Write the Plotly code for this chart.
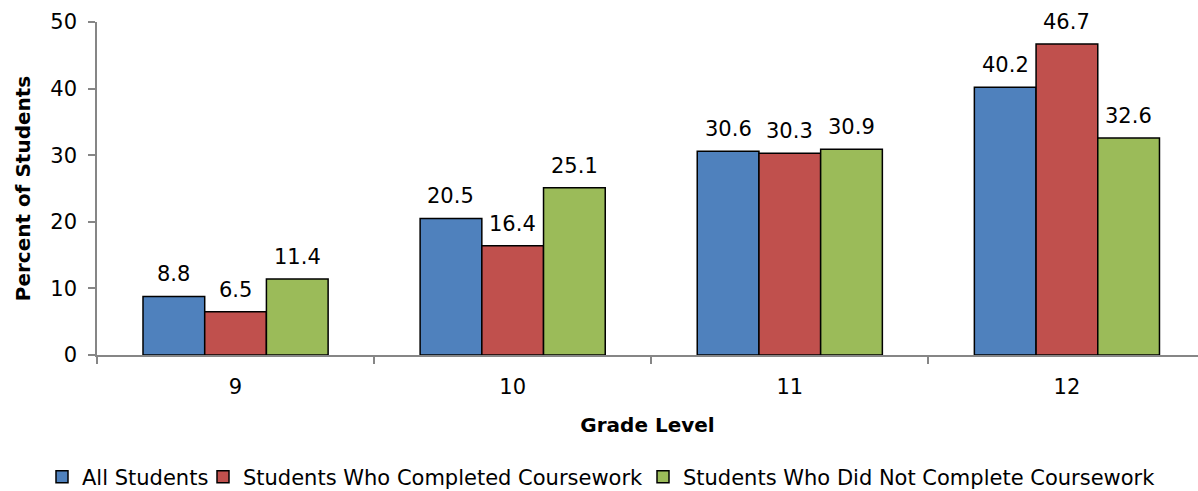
import plotly.graph_objects as go

# Grade level categories and percentages for each student group
grades = ["9", "10", "11", "12"]
all_students = [8.8, 20.5, 30.6, 40.2]
completed = [6.5, 16.4, 30.3, 46.7]
not_completed = [11.4, 25.1, 30.9, 32.6]

series_names = [
    "All Students",
    "Students Who Completed Coursework",
    "Students Who Did Not Complete Coursework",
]
series_values = [all_students, completed, not_completed]
series_colors = ["#4F81BD", "#C0504D", "#9BBB59"]

FONT = "DejaVu Sans"
TEXT_SIZE = 21
TITLE_SIZE = 20
BAR_GAP = 0.332
W, H = 1198, 491

# One single-entry legend per series so the row can be laid out freely
legend_ids = ["legend", "legend2", "legend3"]
legend_left_px = [42, 203, 643]

fig = go.Figure()
for name, vals, color, lid in zip(series_names, series_values, series_colors, legend_ids):
    fig.add_trace(go.Bar(
        name=name,
        x=grades,
        y=vals,
        marker=dict(color=color, line=dict(color="#000000", width=1.5)),
        legend=lid,
        hoverinfo="skip",
    ))

# Value labels above each bar
n = len(series_values)
bar_w = (1 - BAR_GAP) / n
annotations = []
for j, vals in enumerate(series_values):
    for i, v in enumerate(vals):
        annotations.append(dict(
            x=i + (j - (n - 1) / 2) * bar_w,
            y=v,
            xref="x", yref="y",
            text=f"{v:.1f}",
            showarrow=False,
            yanchor="bottom",
            yshift=8,
            font=dict(family=FONT, size=TEXT_SIZE, color="#000000"),
        ))

legends = {}
for lid, left in zip(legend_ids, legend_left_px):
    legends[lid] = dict(
        orientation="h",
        xref="container", yref="container",
        x=left / W, xanchor="left",
        y=1 - 477 / H, yanchor="middle",
        font=dict(family=FONT, size=TEXT_SIZE, color="#000000"),
        bgcolor="rgba(0,0,0,0)",
    )

fig.update_layout(
    width=W,
    height=H,
    margin=dict(l=97, r=0, t=22, b=135.5),
    paper_bgcolor="white",
    plot_bgcolor="white",
    barmode="group",
    bargap=BAR_GAP,
    bargroupgap=0,
    font=dict(family=FONT, size=TEXT_SIZE, color="#000000"),
    annotations=annotations,
    showlegend=True,
    **legends,
    xaxis=dict(
        type="category",
        range=[-0.5, 3.473],
        showline=True,
        linecolor="#868686",
        linewidth=1.5,
        ticks="outside",
        tickson="boundaries",
        ticklen=7,
        tickcolor="#868686",
        tickwidth=1.5,
        showgrid=False,
        zeroline=False,
        ticklabelstandoff=12,
        tickfont=dict(family=FONT, size=TEXT_SIZE),
        title=dict(
            text="<b>Grade Level</b>",
            font=dict(family=FONT, size=TITLE_SIZE),
            standoff=20,
        ),
        automargin=False,
    ),
    yaxis=dict(
        range=[0, 50],
        dtick=10,
        showline=True,
        linecolor="#868686",
        linewidth=1.5,
        ticks="outside",
        ticklen=7,
        tickcolor="#868686",
        tickwidth=1.5,
        showgrid=False,
        zeroline=False,
        ticklabelstandoff=7,
        tickfont=dict(family=FONT, size=TEXT_SIZE),
        title=dict(
            text="<b>Percent of Students</b>",
            font=dict(family=FONT, size=TITLE_SIZE),
            standoff=14,
        ),
        automargin=False,
    ),
)

fig.write_html("out.html")
